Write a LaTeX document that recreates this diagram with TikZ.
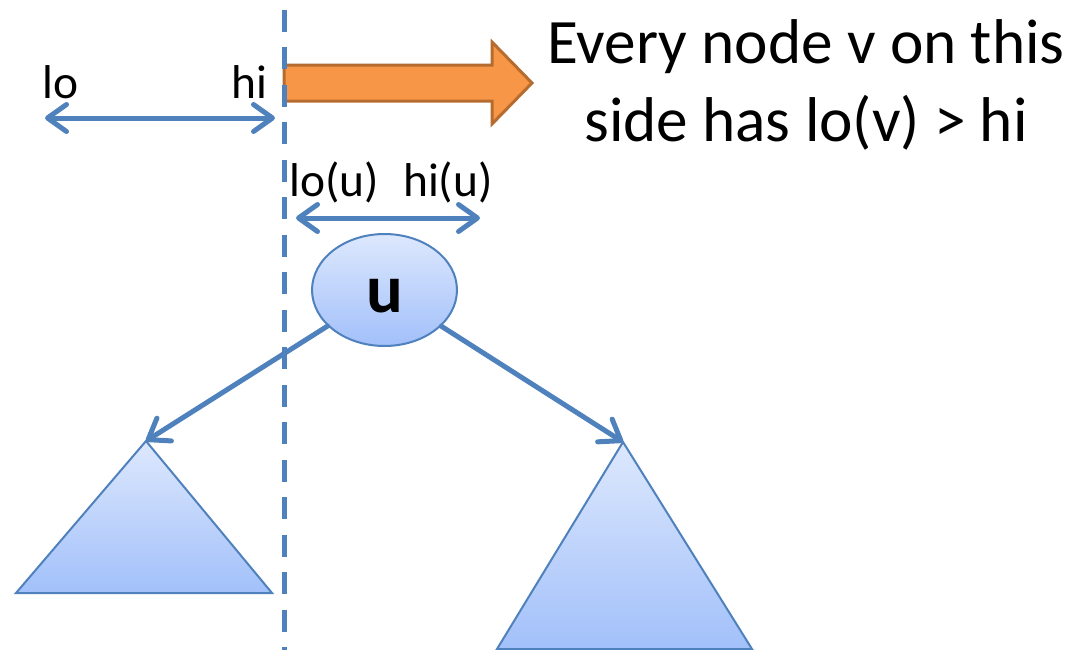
\documentclass[tikz,border=0pt]{standalone}
\usepackage{fontspec}
\setmainfont{Carlito}
\usetikzlibrary{arrows.meta,shapes.geometric}
\definecolor{edgeblue}{HTML}{4F81BD}
\definecolor{fillhi}{HTML}{DDE8FD}
\definecolor{filllo}{HTML}{A2C0FA}
\definecolor{orangefill}{HTML}{F79646}
\definecolor{orangeedge}{HTML}{B66B2F}
\begin{document}
\begin{tikzpicture}[x=0.02cm,y=-0.02cm,
  >={Straight Barb[length=0.38cm,width=0.54cm,round]},
  blueline/.style={draw=edgeblue,line width=0.1cm,line cap=round},
  dashline/.style={draw=edgeblue,line width=0.1cm,dash pattern=on 0.44cm off 0.31cm},
  subtree/.style={draw=edgeblue,line width=0.04cm,top color=fillhi,bottom color=filllo},
  treenode/.style={ellipse,draw=edgeblue,line width=0.04cm,top color=fillhi,bottom color=filllo,
    minimum width=2.9cm,minimum height=2.24cm,inner sep=0pt,
    text height=0.88cm,text depth=0pt},
  fatarrow/.style={fill=orangefill,draw=orangeedge,line width=0.06cm},
  lab/.style={inner sep=0pt,font=\fontsize{27pt}{32pt}\selectfont},
  claimtext/.style={inner sep=0pt,align=center,font=\fontsize{36pt}{44.4pt}\selectfont}]
\useasboundingbox (0,0) rectangle (1074,649);

% subtrees below u
\coordinate (lt) at (146,441);
\coordinate (rt) at (623,442);
\path[subtree] (lt) -- (16,593) -- (272,593) -- cycle;
\path[subtree] (rt) -- (497,649) -- (752,649) -- cycle;

% node u and its child edges
\node[treenode,font=\fontsize{39pt}{42pt}\selectfont\bfseries] (u) at (384.5,290) {u};
\draw[blueline,->] (u) -- (lt);
\draw[blueline,->] (u) -- (rt);

% fat arrow pointing to the right side
\path[fatarrow] (284,65) -- (492,65) -- (492,42) -- (532,83) -- (492,124) -- (492,101) -- (284,101) -- cycle;

% splitting line at hi
\coordinate (dtop) at (284,10);
\coordinate (dbot) at (284,660);
\draw[dashline] (dtop) -- (dbot);

% query interval [lo, hi]
\node[lab,anchor=base west] (lo) at (42,98) {lo};
\node[lab,anchor=base east] (hi) at (268,98) {hi};
\coordinate (aL) at (45,118);
\coordinate (aR) at (275,118);
\draw[blueline,<->] (aL) -- (aR);

% interval of u
\node[lab,anchor=base west] (lou) at (289,196) {lo(u)};
\node[lab,anchor=base east] (hiu) at (493,196) {hi(u)};
\coordinate (bL) at (296,218);
\coordinate (bR) at (480,218);
\draw[blueline,<->] (bL) -- (bR);

% statement
\node[claimtext,anchor=north] (claim) at (806,19) {Every node v on this\\side has lo(v) > hi};
\end{tikzpicture}
\end{document}
